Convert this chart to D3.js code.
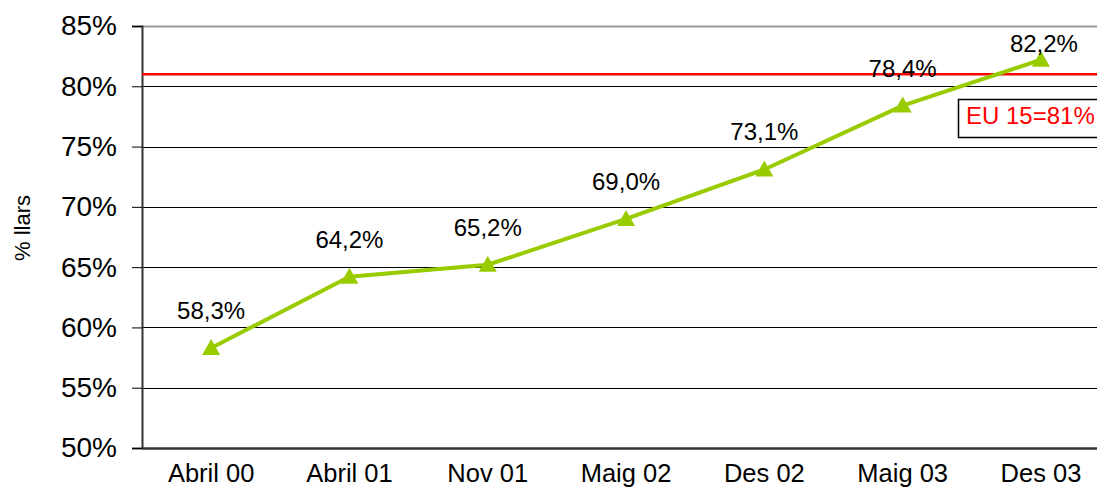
<!DOCTYPE html>
<html><head><meta charset="utf-8">
<script src="https://cdn.jsdelivr.net/npm/d3@7"></script>
<style>html,body{margin:0;padding:0;background:#fff;overflow:hidden}svg{display:block;font-family:Arial,"Liberation Sans",sans-serif}</style>
</head><body>
<script>
const categories = ["Abril 00","Abril 01","Nov 01","Maig 02","Des 02","Maig 03","Des 03"];
const values = [58.3, 64.2, 65.2, 69.0, 73.1, 78.4, 82.2];
const yTicks = [50,55,60,65,70,75,80,85];
const refValue = 81;
const refLabel = "EU 15=81%";
const yTitle = "% llars";

(function(){
const W = 1097, H = 488;
const mLeft = 142, mTop = 26, mBottom = 448;
const step = 138.3;
const svg = d3.select("body").append("svg").attr("width", W).attr("height", H);

const x = d3.scaleBand().domain(categories).range([mLeft, mLeft + step * categories.length]).padding(0);
const y = d3.scaleLinear().domain([50, 85]).range([mBottom, mTop]);
const fmt = v => d3.format(".1f")(v).replace(".", ",") + "%";

// gridlines
svg.append("g").selectAll("line").data(yTicks.filter(t => t > 50)).join("line")
  .attr("x1", mLeft).attr("x2", W).attr("y1", d => Math.round(y(d)) + 0.5).attr("y2", d => Math.round(y(d)) + 0.5)
  .attr("stroke", d => d === 85 ? "#999" : "#000").attr("stroke-width", d => d === 85 ? 2 : 1);

// y axis
const yAxis = svg.append("g").attr("transform", `translate(${mLeft},0)`)
  .call(d3.axisLeft(y).tickValues(yTicks).tickSize(10).tickPadding(15).tickFormat(d => d + "%"));
yAxis.select(".domain").attr("stroke", "#333").attr("stroke-width", 2);
yAxis.selectAll(".tick line").attr("stroke", "#000");
yAxis.selectAll("text").attr("font-size", 28).attr("fill", "#000").attr("font-family", "Arial, 'Liberation Sans', sans-serif");

// x axis
const xAxis = svg.append("g").attr("transform", `translate(0,${mBottom})`)
  .call(d3.axisBottom(x).tickSize(0).tickPadding(16));
xAxis.select(".domain").attr("stroke", "#333").attr("stroke-width", 2.5);
xAxis.selectAll("text").attr("font-size", 25.5).attr("fill", "#000").attr("font-family", "Arial, 'Liberation Sans', sans-serif");

// y title
svg.append("text").attr("transform", `translate(30,228) rotate(-90)`).attr("text-anchor", "middle")
  .attr("font-size", 22).text(yTitle);

// reference line
svg.append("line").attr("x1", mLeft).attr("x2", W).attr("y1", y(refValue)).attr("y2", y(refValue))
  .attr("stroke", "#ff0000").attr("stroke-width", 2.5);

// series line
const cx = d => x(d) + x.bandwidth() / 2;
const color = "#99cc00";
svg.append("path").datum(values)
  .attr("d", d3.line().x((d, i) => cx(categories[i])).y(d => y(d)))
  .attr("fill", "none").attr("stroke", color).attr("stroke-width", 4);

svg.append("g").selectAll("path").data(values).join("path")
  .attr("transform", (d, i) => `translate(${cx(categories[i])},${y(d)})`)
  .attr("d", "M0,-9L9,7L-9,7Z").attr("fill", color);

// labels
svg.append("g").selectAll("text").data(values).join("text")
  .attr("x", (d, i) => cx(categories[i]) + (i === values.length - 1 ? 3 : 0))
  .attr("y", d => Math.max(y(d) - 29, 52))
  .attr("text-anchor", "middle").attr("font-size", 24).text(d => fmt(d));

// EU box
svg.append("rect").attr("x", 958.5).attr("y", 99.5).attr("width", 150).attr("height", 38)
  .attr("fill", "#fff").attr("stroke", "#000").attr("stroke-width", 1.5);
svg.append("text").attr("x", 966).attr("y", 124).attr("font-size", 24).attr("fill", "#ff0000").text(refLabel);
})();
</script>
</body></html>
